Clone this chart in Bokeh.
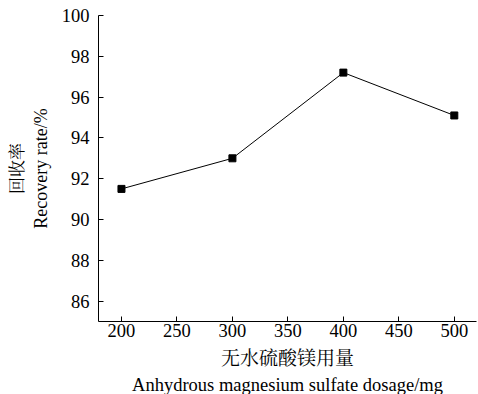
from bokeh.plotting import figure
from bokeh.models import Range1d, FixedTicker, Title
from bokeh.embed import file_html
from bokeh.resources import INLINE

dosage = [200, 300, 400, 500]
recovery = [91.5, 93.0, 97.2, 95.1]
x_ticks = [200, 250, 300, 350, 400, 450, 500]
y_ticks = [86, 88, 90, 92, 94, 96, 98, 100]

SERIF = "Liberation Serif"
CJK = "Noto Serif CJK SC, Noto Sans CJK SC"

p = figure(width=478, height=394, output_backend="svg", toolbar_location=None,
           x_range=Range1d(179.3, 520), y_range=Range1d(85, 100),
           min_border_left=98, min_border_right=2, min_border_top=15, min_border_bottom=72)
p.outline_line_color = None
p.xgrid.visible = False
p.ygrid.visible = False
p.background_fill_color = "white"
p.border_fill_color = "white"

p.line(dosage, recovery, line_color="black", line_width=1)
p.scatter(dosage, recovery, marker="square", size=7, fill_color="black", line_color="black")

for ax in (p.xaxis[0], p.yaxis[0]):
    ax.axis_line_color = "black"
    ax.major_tick_line_color = "black"
    ax.major_tick_in = 5
    ax.major_tick_out = 0
    ax.minor_tick_line_color = None
    ax.major_label_text_font = SERIF
    ax.major_label_text_color = "black"
    ax.major_label_text_font_size = "18.5px"
    ax.axis_label_text_font_style = "normal"
    ax.axis_label_text_color = "black"

p.xaxis[0].ticker = FixedTicker(ticks=x_ticks)
p.yaxis[0].ticker = FixedTicker(ticks=y_ticks)

p.xaxis[0].major_label_standoff = 2
p.xaxis[0].axis_label = "无水硫酸镁用量"
p.xaxis[0].axis_label_text_font = CJK
p.xaxis[0].axis_label_text_font_size = "19px"
p.xaxis[0].axis_label_standoff = 3

p.yaxis[0].major_label_standoff = 9
p.yaxis[0].axis_label = "Recovery rate/%"
p.yaxis[0].axis_label_text_font = SERIF
p.yaxis[0].axis_label_text_font_size = "18px"
p.yaxis[0].axis_label_standoff = 8

t_bottom = Title(text="Anhydrous magnesium sulfate dosage/mg", align="center",
                 text_font=SERIF, text_font_size="18.5px", text_font_style="normal",
                 text_color="black", standoff=0, offset=0)
p.add_layout(t_bottom, "below")

t_left = Title(text="回收率", align="center", text_font=CJK, text_font_size="17px",
               text_font_style="normal", text_color="black", standoff=0, offset=0)
p.add_layout(t_left, "left")

open("out.html", "w").write(file_html(p, INLINE))
